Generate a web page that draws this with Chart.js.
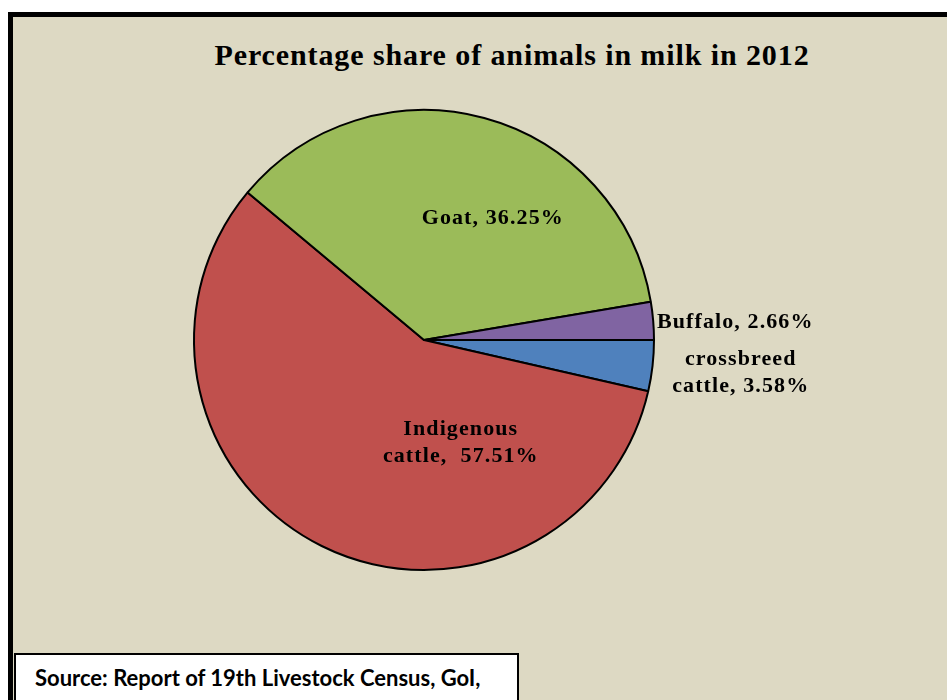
<!DOCTYPE html>
<html>
<head>
<meta charset="utf-8">
<script src="https://cdn.jsdelivr.net/npm/chart.js@4"></script>
<style>
  html, body { margin: 0; padding: 0; background: #ffffff; width: 947px; height: 700px; overflow: hidden; }
  #frame { position: absolute; left: 8px; top: 12px; width: 960px; height: 720px; border: 5px solid #000; background: #DDD9C3; box-sizing: border-box; }
  #title { position: absolute; left: 0; top: 36px; width: 1024px; text-align: center; font-family: "Liberation Serif", "Times New Roman", serif; font-weight: bold; font-size: 30px; letter-spacing: 0.9px; color: #000; line-height: 38px; white-space: nowrap; }
  #wrap { position: absolute; left: 0; top: 0; width: 947px; height: 700px; }
  #source { position: absolute; left: 14px; top: 653px; width: 505px; height: 60px; background: #fff; border: 2px solid #000; box-sizing: border-box; font-family: Lato, "Open Sans", sans-serif; font-weight: bold; font-size: 22px; color: #000; padding: 9px 0 0 19px; white-space: nowrap; }
</style>
</head>
<body>
<div id="frame"></div>
<div id="title">Percentage share of animals in milk in 2012</div>
<div id="wrap"><canvas id="c" width="947" height="700"></canvas></div>
<div id="source">Source: Report of 19th Livestock Census, GoI,</div>
<script>
// ---- data ----
const categories = ["crossbreed cattle", "Indigenous cattle", "Goat", "Buffalo"];
const shares = [3.58, 57.51, 36.25, 2.66];
const sliceLabels = [
  ["crossbreed", "cattle, 3.58%"],
  ["Indigenous", "cattle,  57.51%"],
  ["Goat, 36.25%"],
  ["Buffalo, 2.66%"]
];
const colors = ["#4F81BD", "#C0504D", "#9BBB59", "#8064A2"];

// label placement relative to pie centre, in units of radius (dx, first baseline dy, line step, align)
const labelPlacement = [
  { dx: 1.377, dy: 0.108, step: 0.117, align: "center" },
  { dx: 0.16, dy: 0.411, step: 0.121, align: "center" },
  { dx: 0.299, dy: -0.506, step: 0.12, align: "center" },
  { dx: 1.013, dy: -0.052, step: 0.12, align: "left" }
];

const labelPlugin = {
  id: "sliceLabels",
  afterDatasetsDraw(chart) {
    const meta = chart.getDatasetMeta(0);
    const ctx = chart.ctx;
    const arc0 = meta.data[0];
    const cx = arc0.x, cy = arc0.y, r = arc0.outerRadius;
    ctx.save();
    ctx.fillStyle = "#000";
    ctx.font = "bold 22px 'Liberation Serif', 'Times New Roman', serif";
    if ('letterSpacing' in ctx) ctx.letterSpacing = "1.1px";
    ctx.textBaseline = "alphabetic";
    sliceLabels.forEach((lines, i) => {
      const p = labelPlacement[i];
      ctx.textAlign = p.align;
      lines.forEach((t, j) => {
        ctx.fillText(t, cx + p.dx * r, cy + (p.dy + j * p.step) * r);
      });
    });
    ctx.restore();
  }
};

new Chart(document.getElementById("c"), {
  type: "pie",
  data: {
    labels: categories,
    datasets: [{
      data: shares,
      backgroundColor: colors,
      borderColor: "#000",
      borderWidth: 2
    }]
  },
  options: {
    responsive: false,
    animation: false,
    rotation: 90,
    layout: { padding: { left: 193, top: 109, right: 292, bottom: 129 } },
    plugins: {
      legend: { display: false },
      tooltip: { enabled: false },
      title: { display: false }
    }
  },
  plugins: [labelPlugin]
});
</script>
</body>
</html>
